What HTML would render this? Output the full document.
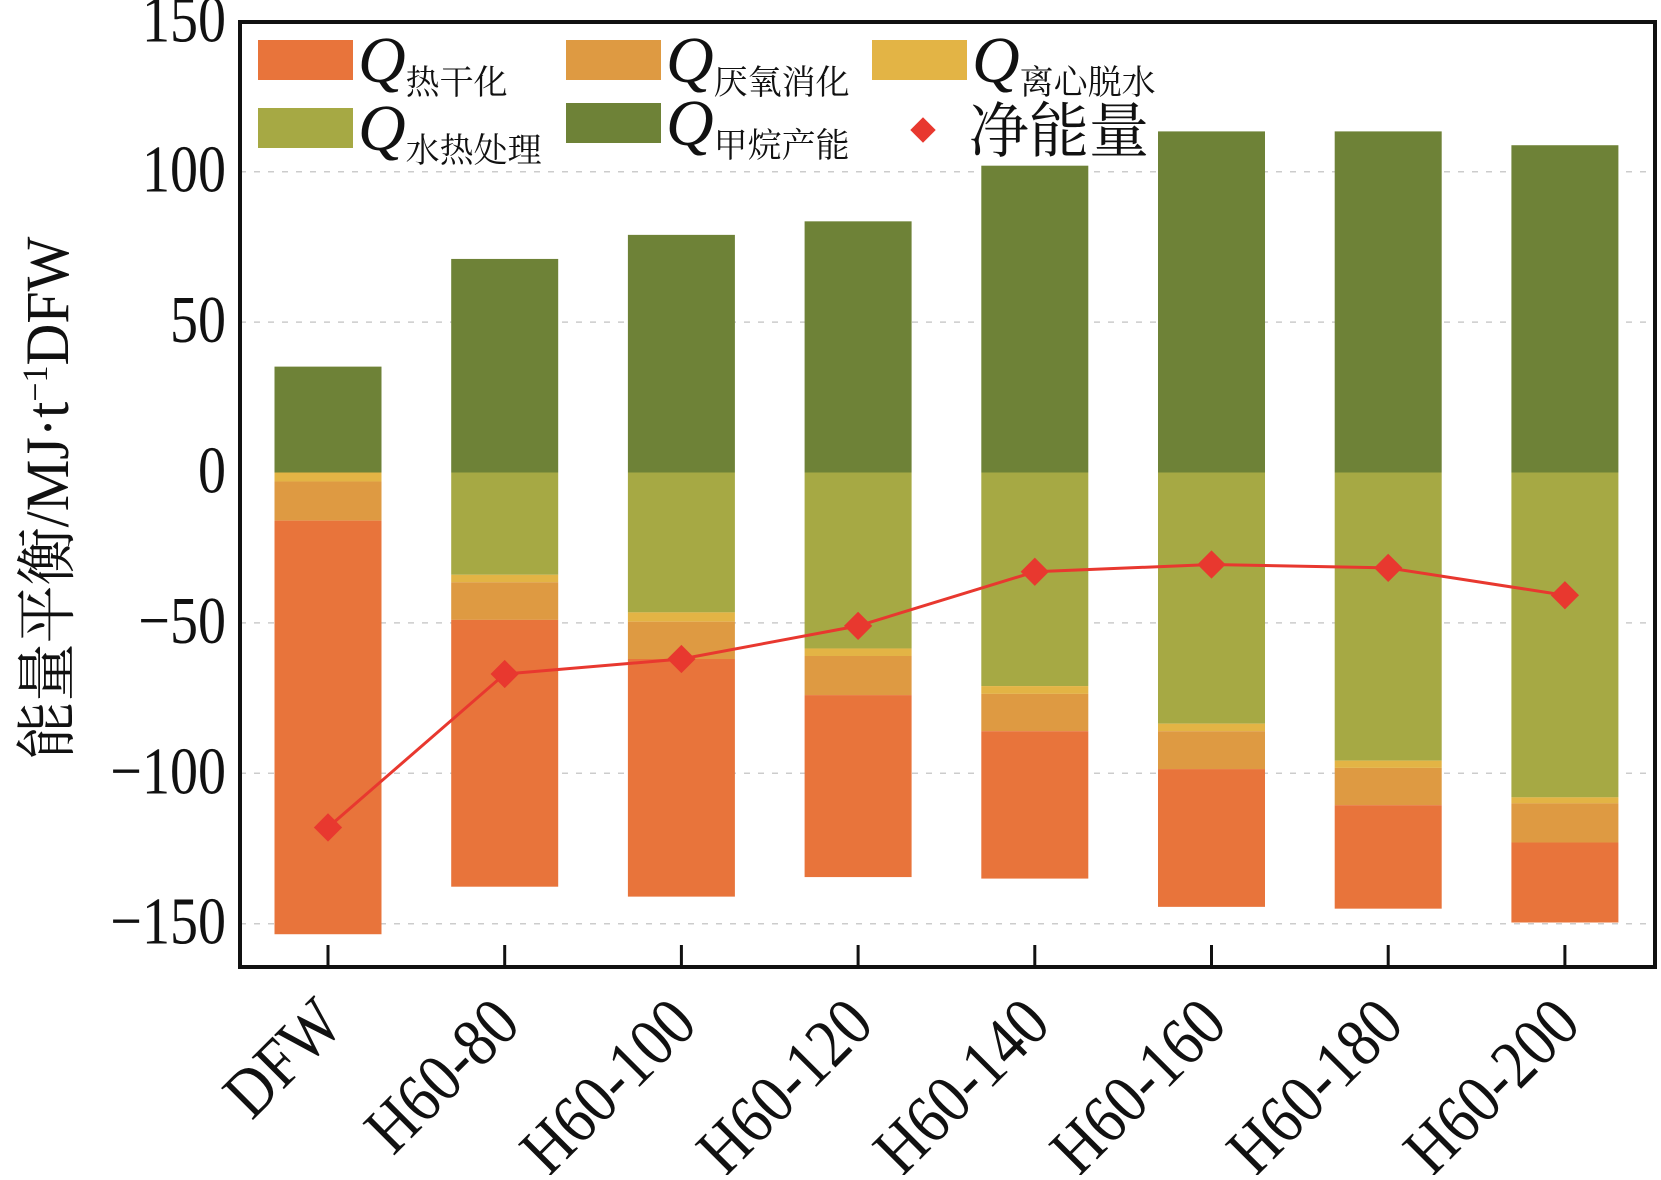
<!DOCTYPE html>
<html><head><meta charset="utf-8"><style>
html,body{margin:0;padding:0;background:#fff;}
svg text{font-family:"Liberation Serif","Noto Serif CJK SC",serif;}
</style></head><body>
<svg id="chart" width="1661" height="1175" viewBox="0 0 1661 1175" xmlns="http://www.w3.org/2000/svg">
<g id="grid"></g>
<g id="bars"></g>
<g id="line"></g>
<g id="axes"></g>
<g id="legend"></g>
<text transform="translate(68,498) rotate(-90) scale(1,1.05)" text-anchor="middle" font-size="58" fill="#111">能量平衡/MJ·t<tspan dy="-20" font-size="34">−1</tspan><tspan dy="20">DFW</tspan></text>
</svg>
<script>
const categories=["DFW","H60-80","H60-100","H60-120","H60-140","H60-160","H60-180","H60-200"];
const methane=[35.2,71,79,83.5,102,113.4,113.4,108.8];
const hydrothermal=[0,34,46.5,58.5,71,83.5,95.8,108];
const dewatering=[3,2.5,3.1,2.5,2.6,2.5,2.4,2];
const anaerobic=[13,12.5,12.4,13,12.4,12.6,12.4,13];
const drying=[137.5,88.7,79,60.5,49,45.8,34.4,26.6];
const netEnergy=[-118,-67,-62,-51,-33,-30.6,-31.7,-40.8];
const yTicks=[150,100,50,0,-50,-100,-150];

const NS="http://www.w3.org/2000/svg";
const L=240,R=1655,T=22,B=967;
const y0=472.5,perUnit=150.4/50;
const y=v=>y0-v*perUnit;
const x=i=>328+i*176.7;
const bw=107;
function mk(tag,attrs,parent){const e=document.createElementNS(NS,tag);for(const k in attrs)e.setAttribute(k,attrs[k]);parent.appendChild(e);return e;}
const grid=document.getElementById('grid'),bars=document.getElementById('bars'),line=document.getElementById('line'),axes=document.getElementById('axes'),legend=document.getElementById('legend');

yTicks.forEach(t=>{
  if(t!==150&&t!==0){const g=mk('line',{x1:L,x2:R,y1:y(t),y2:y(t),stroke:'#ccc','stroke-width':1.5,'stroke-dasharray':'6,8'},grid);
  
  }
  const tl=mk('text',{transform:`translate(${L-14},${y(t)+20}) scale(1,1.2)`,'text-anchor':'end','font-size':56,fill:'#111'},axes);
  tl.textContent=(t<0?'\u2212'+(-t):t);
  
  
});

const colors={methane:'#6E8237',hydro:'#A6A944',dew:'#E3B445',ana:'#DE9A42',dry:'#E8743B'};
categories.forEach((c,i)=>{
  const cx=x(i)-bw/2;
  const r1=mk('rect',{x:cx,y:y(methane[i]),width:bw,height:y(0)-y(methane[i]),fill:colors.methane},bars);
  
  
  let cum=0;
  [[hydrothermal,'hydro','bar-hydrothermal'],[dewatering,'dew','bar-dewatering'],[anaerobic,'ana','bar-anaerobic'],[drying,'dry','bar-drying']].forEach(([arr,k,n])=>{
    const top=y(-cum);cum+=arr[i];const bot=y(-cum);
    const r=mk('rect',{x:cx,y:top,width:bw,height:bot-top,fill:colors[k]},bars);
    
    
  });
  const tk=mk('line',{x1:x(i),x2:x(i),y1:B,y2:B-22,stroke:'#111','stroke-width':3},axes);
  
  
  const xl=mk('text',{transform:`translate(${x(i)+18},${B+60}) rotate(-45) scale(1,1.15)`,'text-anchor':'end','font-size':60,fill:'#111'},axes);
  xl.textContent=c;
  
  
});

const pts=netEnergy.map((v,i)=>x(i)+','+y(v)).join(' ');
const pl=mk('polyline',{points:pts,fill:'none',stroke:'#E8382F','stroke-width':3},line);


netEnergy.forEach((v,i)=>{
  const d=mk('rect',{x:x(i)-10,y:y(v)-10,width:20,height:20,fill:'#E8382F',transform:`rotate(45 ${x(i)} ${y(v)})`},line);
  
  
});

const frame=mk('rect',{x:L,y:T,width:R-L,height:B-T,fill:'none',stroke:'#111','stroke-width':4},axes);



const legItems=[[258,40,colors.dry,'热干化'],[566,40,colors.ana,'厌氧消化'],[872,40,colors.dew,'离心脱水'],[258,108,colors.hydro,'水热处理'],[566,103,colors.methane,'甲烷产能']];
legItems.forEach(([lx,ly,col,lab])=>{
  const s=mk('rect',{x:lx,y:ly,width:95,height:40,fill:col},legend);
  
  
  const t=mk('text',{x:lx+100,y:ly+42,'font-size':66,'font-style':'italic',fill:'#111'},legend);
  t.textContent='Q';
  
  
  const sub=mk('tspan',{'font-size':34,'font-style':'normal',dy:12,dx:0},t);
  sub.textContent=lab;
});
const ld=mk('rect',{x:914,y:121,width:18,height:18,fill:'#E8382F',transform:'rotate(45 923 130)'},legend);


const lt=mk('text',{x:969,y:152,'font-size':60,fill:'#111'},legend);
lt.textContent='净能量';


</script>
</body></html>
